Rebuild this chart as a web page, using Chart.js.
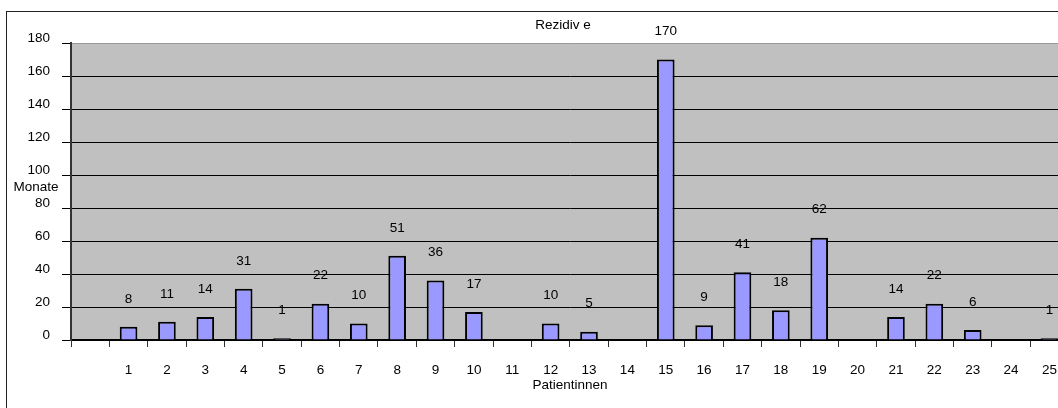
<!DOCTYPE html>
<html>
<head>
<meta charset="utf-8">
<script src="https://cdn.jsdelivr.net/npm/chart.js@4/dist/chart.umd.min.js"></script>
<style>
  html, body { margin: 0; padding: 0; background: #fff; overflow: hidden; }
  #wrap { position: relative; width: 1058px; height: 408px; overflow: hidden; }
  canvas { position: absolute; left: 0; top: 0; }
</style>
</head>
<body>
<div id="wrap">
  <canvas id="rezChart" width="1072" height="420"></canvas>
</div>
<script>
// ================== Daten ==================
const patienten = ["", "1", "2", "3", "4", "5", "6", "7", "8", "9", "10", "11", "12", "13",
  "14", "15", "16", "17", "18", "19", "20", "21", "22", "23", "24", "25"];
const monate = [null, 8, 11, 14, 31, 1, 22, 10, 51, 36, 17, null, 10, 5,
  null, 170, 9, 41, 18, 62, null, 14, 22, 6, null, 1];
const yTicks = [0, 20, 40, 60, 80, 100, 120, 140, 160, 180];

const FONT = "'Liberation Sans', Arial, sans-serif";

// ================== Rahmen, Hintergrund + Beschriftungen ==================
const frameAndText = {
  id: "frameAndText",
  beforeDraw(chart) {
    const ctx = chart.ctx;
    const a = chart.chartArea;
    ctx.save();
    ctx.fillStyle = "#fff";
    ctx.fillRect(0, 0, chart.width, chart.height);
    ctx.strokeStyle = "#222";
    ctx.lineWidth = 1;
    ctx.strokeRect(6.5, 11.5, chart.width + 20, chart.height + 20);
    // graue Zeichenfläche
    ctx.fillStyle = "#C0C0C0";
    ctx.fillRect(a.left, a.top, a.right - a.left, a.bottom - a.top);
    ctx.restore();
  },
  afterDraw(chart) {
    const ctx = chart.ctx;
    ctx.save();
    ctx.fillStyle = "#000";
    ctx.font = "13.5px " + FONT;
    ctx.textAlign = "center";
    ctx.textBaseline = "middle";
    ctx.fillText("Rezidiv e", 563, 25);
    ctx.fillText("Patientinnen", 570, 385);
    ctx.fillText("Monate", 36, 187);

    // Werte über den Balken
    const meta = chart.getDatasetMeta(0);
    meta.data.forEach((bar, i) => {
      if (monate[i] === null) return;
      ctx.fillText(String(monate[i]), bar.x, bar.y - 28);
    });
    ctx.restore();
  }
};

// ================== Chart ==================
new Chart(document.getElementById("rezChart"), {
  type: "bar",
  data: {
    labels: patienten,
    datasets: [{
      data: monate,
      backgroundColor: "#9999FF",
      borderColor: "#000",
      borderWidth: 2,
      categoryPercentage: 1,
      barPercentage: 0.46
    }]
  },
  options: {
    responsive: false,
    animation: false,
    layout: { padding: { top: 43, right: 2, left: 0, bottom: 0 } },
    plugins: {
      legend: { display: false },
      tooltip: { enabled: false }
    },
    scales: {
      x: {
        afterFit: (scale) => { scale.height = 80; },
        grid: {
          drawOnChartArea: false,
          drawTicks: true,
          tickLength: 7,
          tickColor: "#333",
          lineWidth: 1
        },
        border: { color: "#000", width: 1.5 },
        ticks: {
          color: "#000",
          font: { family: FONT, size: 13.5 },
          padding: 15,
          maxRotation: 0,
          autoSkip: false
        }
      },
      y: {
        min: 0,
        max: 180,
        afterFit: (scale) => { scale.width = 71; },
        afterBuildTicks: (scale) => {
          scale.ticks = yTicks.map(v => ({ value: v }));
        },
        grid: {
          color: (c) => (c.tick && c.tick.value === 180 ? "#9a9a9a" : "#000"),
          tickColor: "#000",
          tickLength: 9,
          lineWidth: 1
        },
        border: { color: "#333", width: 2 },
        ticks: {
          color: "#000",
          font: { family: FONT, size: 13.5 },
          padding: 12,
          labelOffset: -5
        }
      }
    }
  },
  plugins: [frameAndText]
});
</script>
</body>
</html>
